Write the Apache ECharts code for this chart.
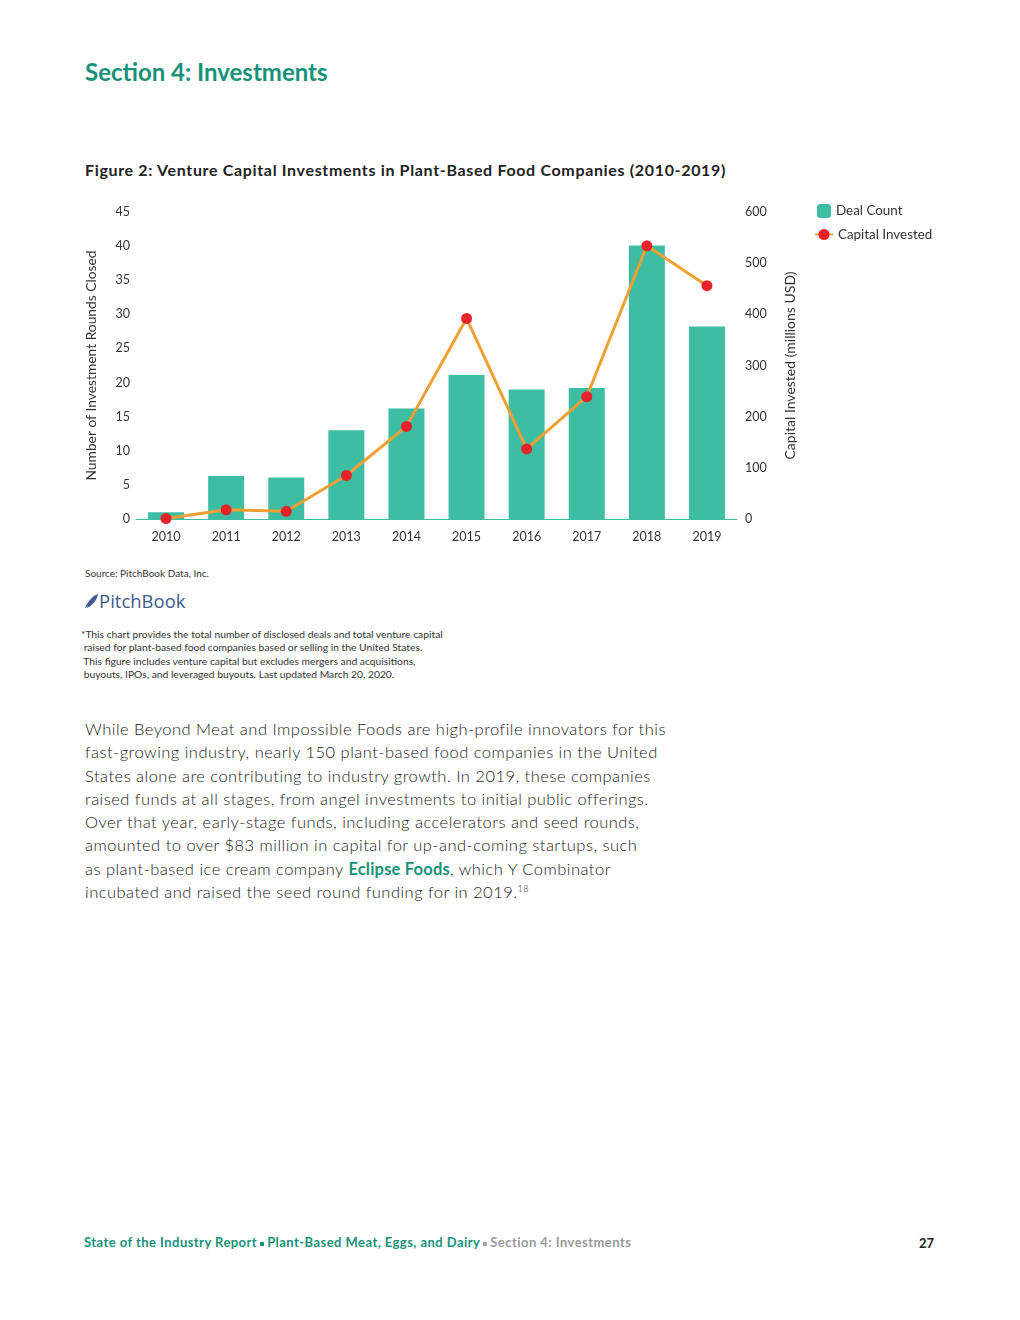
<!DOCTYPE html>
<html>
<head>
<meta charset="utf-8">
<script src="https://cdn.jsdelivr.net/npm/echarts@6/dist/echarts.min.js"></script>
<style>
  html, body { margin:0; padding:0; background:#fff; }
  body { width:1020px; height:1320px; position:relative; font-family: Lato, "Noto Sans", sans-serif; color:#333; }
  .abs { position:absolute; white-space:nowrap; }
  #sec { left:85px; top:57px; font-family:Lato, sans-serif; font-weight:bold; font-size:24px; color:#17917a; }
  #fig { left:85px; top:160px; font-weight:bold; font-size:16px; color:#222; letter-spacing:0.66px; }
  #chart { left:0; top:190px; width:1020px; height:370px; }
  #src { left:85px; top:567px; font-size:10px; color:#333; }
  #logo { left:85px; top:588px; font-size:18.5px; color:#3e5c8c; font-family:"Open Sans", sans-serif; }
  #note { left:81px; top:628px; font-size:10.3px; line-height:13.3px; color:#333; }
  #para { left:85px; top:718px; font-size:16.5px; line-height:23.3px; color:#222; font-weight:300; letter-spacing:0.48px; }
  #para b { color:#17917a; font-weight:bold; letter-spacing:0.2px; }
  #para sup { font-size:9px; vertical-align:6px; line-height:0; }
  #foot { left:84px; top:1234px; font-family:Lato, sans-serif; font-weight:bold; font-size:13px; color:#17917a; letter-spacing:0.45px; }
  #foot .g { color:#999; }
  #foot .sq { display:inline-block; width:4px; height:4px; background:#17917a; vertical-align:middle; margin:0 3px; }
  #foot .sq.gr { background:#aaa; }
  #page { left:919px; top:1235px; font-family:Lato, sans-serif; font-weight:bold; font-size:13px; color:#222; }
</style>
</head>
<body>
<div id="sec" class="abs">Section 4: Investments</div>
<div id="fig" class="abs">Figure 2: Venture Capital Investments in Plant-Based Food Companies (2010-2019)</div>
<div id="chart" class="abs"></div>
<div id="src" class="abs">Source: PitchBook Data, Inc.</div>
<div id="logo" class="abs"><svg width="14" height="16" viewBox="0 0 14 16" style="vertical-align:-1px"><path d="M2 15 C3 8 7 3 13 1 C12 7 8 12 2 15 Z M0 15 C2 10 5 6 9 3 C6 7 3 11 1 15 Z" fill="#3e5c8c"/></svg>PitchBook</div>
<div id="note" class="abs">*This chart provides the total number of disclosed deals and total venture capital<br>&nbsp;raised for plant-based food companies based or selling in the United States.<br>&nbsp;This figure includes venture capital but excludes mergers and acquisitions,<br>&nbsp;buyouts, IPOs, and leveraged buyouts. Last updated March 20, 2020.</div>
<div id="para" class="abs">While Beyond Meat and Impossible Foods are high-profile innovators for this<br>fast-growing industry, nearly 150 plant-based food companies in the United<br>States alone are contributing to industry growth. In 2019, these companies<br>raised funds at all stages, from angel investments to initial public offerings.<br>Over that year, early-stage funds, including accelerators and seed rounds,<br>amounted to over $83 million in capital for up-and-coming startups, such<br>as plant-based ice cream company <b>Eclipse Foods</b>, which Y Combinator<br>incubated and raised the seed round funding for in 2019.<sup>18</sup></div>
<div id="foot" class="abs">State of the Industry Report<span class="sq"></span>Plant-Based Meat, Eggs, and Dairy<span class="sq gr"></span><span class="g">Section 4: Investments</span></div>
<div id="page" class="abs">27</div>
<script>
const years = ['2010','2011','2012','2013','2014','2015','2016','2017','2018','2019'];
const dealCount = [1, 6.3, 6.1, 13, 16.2, 21.1, 19, 19.2, 40.1, 28.2];
const capitalInvested = [1, 18, 15, 85, 181, 392, 137, 239, 534, 456];

const chart = echarts.init(document.getElementById('chart'), null, {renderer:'canvas'});
const fontFam = 'Lato, "Noto Sans", sans-serif';
chart.setOption({
  animation: false,
  textStyle: { fontFamily: fontFam },
  grid: { left: 136, right: 283, top: 22, height: 307, containLabel: false },
  legend: [
    { data: ['Deal Count'], orient: 'vertical', left: 817, top: 14, padding: 0, itemWidth: 14, itemHeight: 14,
      textStyle: { fontSize: 13.4, color: '#333', fontFamily: fontFam } },
    { data: ['Capital Invested'], orient: 'vertical', left: 814, top: 38, padding: 0, itemWidth: 18, itemHeight: 14,
      textStyle: { fontSize: 13.4, color: '#333', fontFamily: fontFam } }
  ],
  xAxis: {
    type: 'category', data: years,
    axisTick: { show: false },
    axisLine: { lineStyle: { color: '#3dbda2', width: 1 } },
    axisLabel: { fontSize: 12.5, color: '#333', margin: 11 }
  },
  yAxis: [
    { type: 'value', min: 0, max: 45, interval: 5,
      name: 'Number of Investment Rounds Closed', nameLocation: 'middle', nameGap: 37, nameRotate: 90,
      nameTextStyle: { fontSize: 13.8, color: '#333' },
      splitLine: { show: false }, axisLine: { show: false }, axisTick: { show: false },
      axisLabel: { fontSize: 12.5, color: '#333', margin: 6 } },
    { type: 'value', min: 0, max: 600, interval: 100, position: 'right',
      name: 'Capital Invested (millions USD)', nameLocation: 'middle', nameGap: 46, nameRotate: 90,
      nameTextStyle: { fontSize: 14, color: '#333' },
      splitLine: { show: false }, axisLine: { show: false }, axisTick: { show: false },
      axisLabel: { fontSize: 12.5, color: '#333', margin: 8 } }
  ],
  series: [
    { name: 'Deal Count', type: 'bar', data: dealCount, yAxisIndex: 0, barWidth: 36,
      itemStyle: { color: '#3dbda2' } },
    { name: 'Capital Invested', type: 'line', data: capitalInvested, yAxisIndex: 1,
      symbol: 'circle', symbolSize: 11,
      lineStyle: { color: '#f0a033', width: 3 },
      itemStyle: { color: '#e8222a' } }
  ]
});
</script>
</body>
</html>
